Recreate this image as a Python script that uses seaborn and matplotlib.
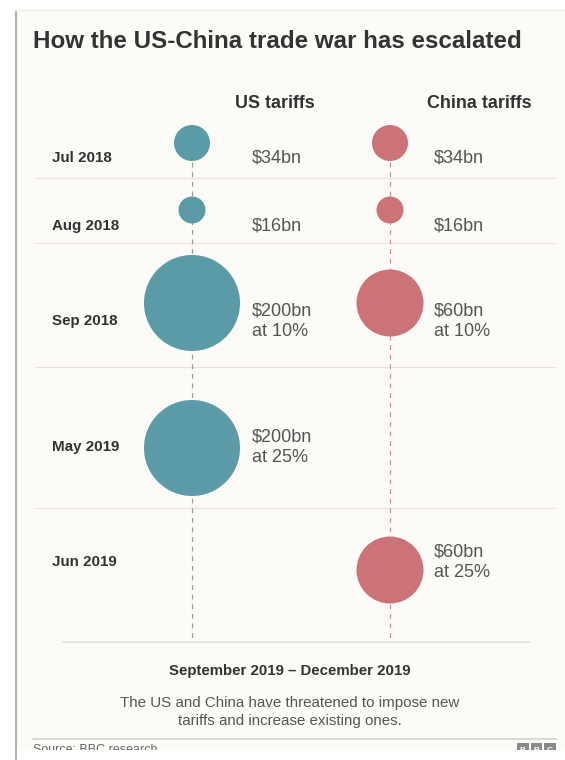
import matplotlib
matplotlib.use("Agg")
import matplotlib.pyplot as plt
import seaborn as sns
import pandas as pd
from matplotlib.patches import Rectangle
from matplotlib.transforms import Bbox

# ---------------- data ----------------
dates = ["Jul 2018", "Aug 2018", "Sep 2018", "May 2019", "Jun 2019"]
us_values = [34, 16, 200, 200, None]
us_labels = ["$34bn", "$16bn", "$200bn\nat 10%", "$200bn\nat 25%", None]
china_values = [34, 16, 60, None, 60]
china_labels = ["$34bn", "$16bn", "$60bn\nat 10%", None, "$60bn\nat 25%"]
sides = ["US", "China"]
column_titles = ["US tariffs", "China tariffs"]
title = "How the US-China trade war has escalated"
period = "September 2019 \u2013 December 2019"
note = "The US and China have threatened to impose new\ntariffs and increase existing ones."
source = "Source: BBC research"

# ---------------- layout / style ----------------
W, H = 565, 760
CARD_BOTTOM = 750
COL_X = {"US": 192, "China": 390}
TEXT_X = {"US": 252, "China": 434}
HEAD_X = {"US": 275, "China": 479}
ROW_Y = {"Jul 2018": 143, "Aug 2018": 210, "Sep 2018": 303, "May 2019": 448, "Jun 2019": 570}
LABEL_Y = {"Jul 2018": 158, "Aug 2018": 226, "Sep 2018": 321, "May 2019": 447, "Jun 2019": 562}
SEP_Y = [178, 243, 367, 508]
RADIUS_PX = {16: 13.5, 34: 18.0, 60: 33.5, 200: 48.0}
PALETTE = {"US": "#5b9ba7", "China": "#cc7377"}
LINE_COL = {"US": "#9a9a9a", "China": "#d48d90"}
BG = "#fcfbf8"
PX = 0.72  # points per pixel at dpi 100

sns.set_theme(style="white")
plt.rcParams["font.family"] = ["Liberation Sans", "DejaVu Sans"]

rows = []
for d, v in zip(dates, us_values):
    if v is not None:
        rows.append({"date": d, "side": "US", "value": v})
for d, v in zip(dates, china_values):
    if v is not None:
        rows.append({"date": d, "side": "China", "value": v})
df = pd.DataFrame(rows)
df["x"] = df["side"].map(COL_X)
df["y"] = df["date"].map(ROW_Y)

fig = plt.figure(figsize=(W / 100, H / 100), dpi=100)
fig.patch.set_facecolor("white")
ax = fig.add_axes([0, 0, 1, 1])
ax.set_xlim(0, W)
ax.set_ylim(H, 0)
ax.axis("off")

# card
ax.add_patch(Rectangle((16, 10), W - 16, CARD_BOTTOM - 10, facecolor=BG, edgecolor="none", zorder=0))
ax.plot([15.5, 15.5], [12, H], color="#b5b5b5", lw=2.2 * PX, zorder=0.5)
ax.plot([16, W], [10, 10], color="#ececec", lw=1 * PX, zorder=0.5)

# title
ax.text(33, 42, title, fontsize=17.4, fontweight="bold", color="#333333",
        ha="left", va="center", parse_math=False)

# column headers
for s, t in zip(sides, column_titles):
    ax.text(HEAD_X[s], 104, t, fontsize=12.9, fontweight="bold", color="#333333",
            ha="center", va="center", parse_math=False)

# separators
for y in SEP_Y:
    ax.plot([35, 555], [y, y], color="#ebe3df", lw=1.2 * PX, zorder=0.8)
ax.plot([63, 530], [642, 642], color="#dddddd", lw=1.5 * PX, zorder=0.8)

# dashed verticals
for s in sides:
    ax.plot([COL_X[s], COL_X[s]], [ROW_Y["Jul 2018"], 642], color=LINE_COL[s],
            lw=1.2 * PX, ls=(0, (4, 4)), zorder=1)

# circles
sizes = {v: (2 * r * PX) ** 2 for v, r in RADIUS_PX.items()}
sns.scatterplot(data=df, x="x", y="y", hue="side", size="value", sizes=sizes,
                palette=PALETTE, legend=False, edgecolor="none", linewidth=0,
                ax=ax, zorder=3)
ax.set_xlim(0, W)
ax.set_ylim(H, 0)
ax.axis("off")

# row labels
for d in dates:
    ax.text(52, LABEL_Y[d], d, fontsize=10.9, fontweight="bold", color="#333333",
            ha="left", va="center", parse_math=False)

# value labels
for s, labels in zip(sides, [us_labels, china_labels]):
    for d, lab in zip(dates, labels):
        if lab is None:
            continue
        ax.text(TEXT_X[s], LABEL_Y[d], lab, fontsize=13, color="#555555",
                ha="left", va="center", linespacing=1.27, parse_math=False)

# footer
ax.text(290, 671, period, fontsize=10.8, fontweight="bold", color="#333333",
        ha="center", va="center", parse_math=False)
ax.text(290, 712, note, fontsize=10.9, color="#555555", ha="center", va="center",
        linespacing=1.3, parse_math=False)
ax.plot([33, 557], [739, 739], color="#cfcfcf", lw=1.5 * PX, zorder=0.8)

# source line and logo, cut off by the bottom of the card as in the screenshot
p0 = ax.transData.transform((0, CARD_BOTTOM))
p1 = ax.transData.transform((W, 0))
clip_box = Bbox.from_extents(p0[0], p0[1], p1[0], p1[1])
clip = Rectangle((0, 0), W, CARD_BOTTOM, transform=ax.transData, visible=False)
ax.add_patch(clip)
src = ax.text(33, 744, source, fontsize=9, color="#666666", ha="left", va="top",
              parse_math=False)
src.set_clip_box(clip_box)
src.set_clip_on(True)
for i, ch in enumerate("BBC"):
    x0 = 517 + i * 13.5
    blk = Rectangle((x0, 743), 11.5, 14, facecolor="#8a8a8a", edgecolor="none", zorder=2)
    ax.add_patch(blk)
    blk.set_clip_path(clip)
    lt = ax.text(x0 + 5.75, 750, ch, fontsize=6, fontweight="bold", color="white",
                 ha="center", va="center", zorder=3)
    lt.set_clip_box(clip_box)
    lt.set_clip_on(True)

fig.savefig("out.png", dpi=100, facecolor="white")
